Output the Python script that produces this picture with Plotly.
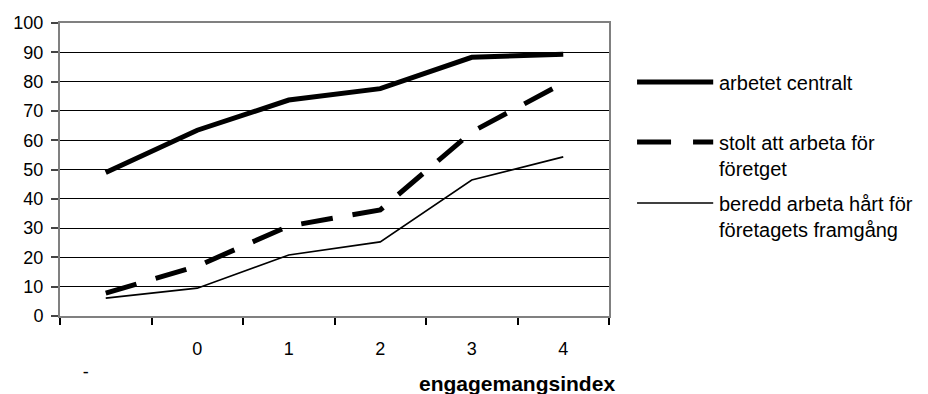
import plotly.graph_objects as go

categories = ["-", "0", "1", "2", "3", "4"]
tick_labels = ["<br>-" + "\u00a0" * 8, "0", "1", "2", "3", "4"]
series_names = ["arbetet centralt", "stolt att arbeta för<br>företget", "beredd arbeta hårt för<br>företagets framgång"]
arbetet_centralt = [49, 63.4, 73.7, 77.6, 88.3, 89.3]
stolt = [7.8, 17, 30.7, 36.2, 62.8, 79.5]
beredd = [6.1, 9.5, 20.8, 25.3, 46.4, 54.3]
y_ticks = [0, 10, 20, 30, 40, 50, 60, 70, 80, 90, 100]
x_title = "engagemangsindex"

FONT = "Liberation Sans, Arial, sans-serif"
FS = 18

styles = [
    dict(color="black", width=5, dash="solid"),
    dict(color="black", width=5, dash="32px,20px"),
    dict(color="black", width=1.6, dash="solid"),
]
values = [arbetet_centralt, stolt, beredd]

fig = go.Figure()
for name, vals, st in zip(series_names, values, styles):
    fig.add_trace(go.Scatter(x=categories, y=vals, mode="lines", name=name,
                             line=st, showlegend=False))

# manual legend (sample y in pixels converted to paper units)
PLOT_BOTTOM, PLOT_H = 316, 293
leg_px = [82, 142, 203]
leg_dash = ["solid", "34px,22px", "solid"]
for name, st, ypx, dsh in zip(series_names, styles, leg_px, leg_dash):
    yp = (PLOT_BOTTOM - ypx) / PLOT_H
    fig.add_shape(type="line", xref="paper", yref="paper",
                  x0=1.0511, x1=1.1898, y0=yp, y1=yp,
                  line=dict(color="black", width=st["width"], dash=dsh))
    ytop = (PLOT_BOTTOM - (ypx + 2 - 14)) / PLOT_H
    fig.add_annotation(xref="paper", yref="paper", x=1.196, y=ytop,
                       xanchor="left", yanchor="top", align="left",
                       text=name, showarrow=False,
                       font=dict(family=FONT, size=20, color="black"))

fig.add_annotation(xref="paper", yref="paper", x=0.833, y=-0.2287,
                   xanchor="center", yanchor="middle", showarrow=False,
                   text="<b>" + x_title + "</b>",
                   font=dict(family=FONT, size=21, color="black"))

fig.update_layout(
    width=928, height=394,
    margin=dict(l=60, r=319, t=23, b=78),
    paper_bgcolor="white", plot_bgcolor="white",
    font=dict(family=FONT, size=FS, color="black"),
    showlegend=False,
)
fig.update_xaxes(
    type="category", range=[-0.5, 5.5], automargin=False,
    tickmode="array", tickvals=categories, ticktext=tick_labels,
    tickson="boundaries", ticks="outside", ticklen=7, tickwidth=1.5, tickcolor="black",
    showline=True, linecolor="#808080", linewidth=2, mirror=True,
    showgrid=False, zeroline=False, ticklabelstandoff=15,
)
fig.update_yaxes(
    range=[0, 100], tickvals=y_ticks, automargin=False,
    ticks="outside", ticklen=7, tickwidth=1.5, tickcolor="#444",
    showline=True, linecolor="#808080", linewidth=2, mirror=True,
    showgrid=True, gridcolor="black", gridwidth=1, zeroline=False,
    ticklabelstandoff=4,
)
fig.write_html("out.html")
